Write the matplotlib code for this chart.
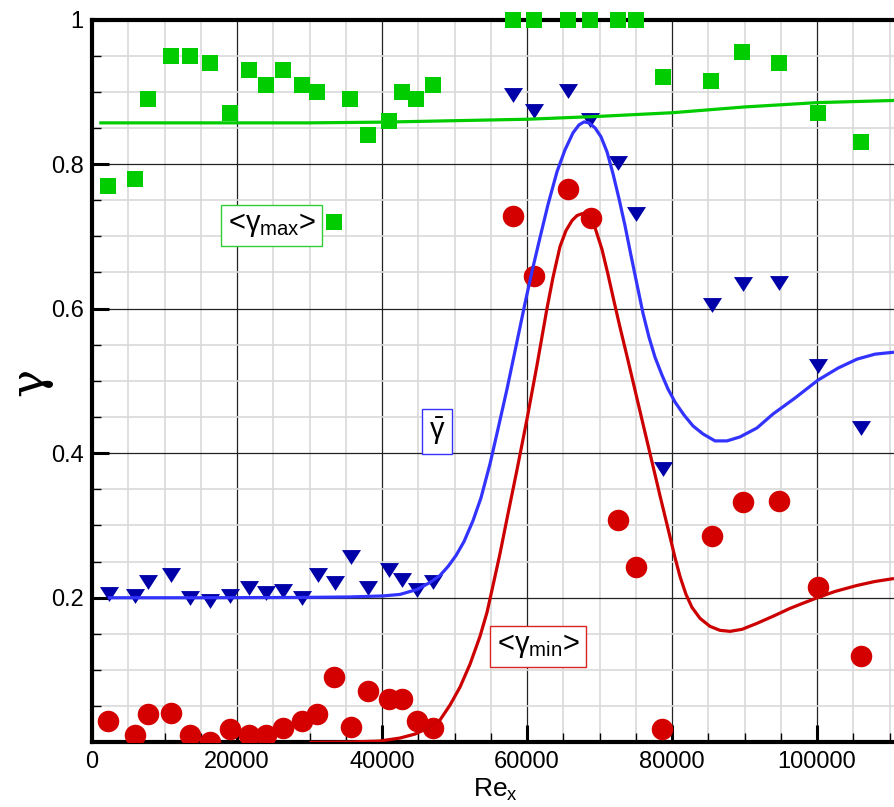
import matplotlib
matplotlib.use("Agg")
import matplotlib.pyplot as plt
from matplotlib.ticker import MultipleLocator, FixedLocator

plt.rcParams['font.family'] = ['Liberation Sans', 'DejaVu Sans']
plt.rcParams['mathtext.fontset'] = 'custom'
plt.rcParams['mathtext.rm'] = 'Liberation Sans'
plt.rcParams['mathtext.it'] = 'Liberation Sans'
plt.rcParams['mathtext.bf'] = 'Liberation Sans:bold'

# ---- measured intermittency: maximum (squares) ----
re_max = [2200, 5900, 7750, 10900, 13500, 16300, 19100, 21600, 24000, 26400,
          28900, 31100, 33400, 35600, 38100, 41000, 42800, 44700, 47100,
          58000, 60900, 65600, 68700, 72600, 75000, 78700, 85400, 89700,
          94700, 100200, 106100]
gamma_max = [0.77, 0.78, 0.89, 0.95, 0.95, 0.94, 0.87, 0.93, 0.91, 0.93,
             0.91, 0.90, 0.72, 0.89, 0.84, 0.86, 0.90, 0.89, 0.91,
             1.0, 1.0, 1.0, 1.0, 1.0, 1.0, 0.92, 0.915, 0.955,
             0.94, 0.87, 0.83]

# ---- measured intermittency: mean (triangles) ----
re_mean = [2300, 5900, 7750, 10900, 13500, 16300, 19000, 21600, 24000, 26400,
           28900, 31200, 33500, 35700, 38100, 41000, 42800, 44800, 47100,
           58000, 60900, 65700, 68700, 72600, 75100, 78700, 85500, 89800,
           94700, 100200, 106100]
gamma_mean = [0.205, 0.203, 0.222, 0.231, 0.200, 0.195, 0.203, 0.214, 0.206, 0.210,
              0.200, 0.232, 0.220, 0.257, 0.214, 0.238, 0.225, 0.211, 0.222,
              0.895, 0.873, 0.901, 0.861, 0.801, 0.731, 0.378, 0.605, 0.634,
              0.636, 0.520, 0.435]

# ---- measured intermittency: minimum (circles) ----
re_min = [2200, 5900, 7750, 10900, 13500, 16300, 19000, 21600, 24000, 26400,
          28900, 31100, 33400, 35700, 38100, 41000, 42800, 44800, 47100,
          58000, 60900, 65700, 68800, 72600, 75100, 78600, 85500, 89800,
          94700, 100200, 106100]
gamma_min = [0.030, 0.010, 0.039, 0.040, 0.010, 0.000, 0.018, 0.010, 0.010, 0.020,
             0.030, 0.039, 0.090, 0.021, 0.071, 0.060, 0.060, 0.030, 0.020,
             0.728, 0.645, 0.765, 0.726, 0.308, 0.242, 0.018, 0.285, 0.333,
             0.334, 0.215, 0.120]

# ---- model predictions (curves) ----
re_curve_max = [1000, 10000, 20000, 30000, 40000, 50000, 60000, 70000, 80000,
                90000, 100000, 110620]
curve_max = [0.857, 0.857, 0.857, 0.857, 0.858, 0.860, 0.862, 0.866, 0.871,
             0.879, 0.885, 0.888]

re_curve_mean = [2207, 14897, 28690, 35586, 40138, 42482, 44827, 46620, 48000,
                 49103, 50207, 51310, 52551, 53655, 54896, 56000, 57241, 58483,
                 59724, 60689, 61793, 62896, 64138, 65241, 66345, 67172, 67862,
                 68552, 69379, 70207, 71034, 71862, 72689, 73517, 74345, 75172,
                 76000, 76827, 77655, 78620, 79448, 80414, 81655, 82896, 84275,
                 85930, 87586, 89379, 91724, 93931, 96965, 100138, 102896,
                 105517, 108000, 110620]
curve_mean = [0.2000, 0.2000, 0.2004, 0.2011, 0.2025, 0.2046, 0.2114, 0.2211, 0.2308,
              0.2432, 0.2584, 0.2777, 0.3066, 0.3383, 0.3852, 0.4335, 0.4887, 0.5480,
              0.6073, 0.6514, 0.6983, 0.7439, 0.7894, 0.8197, 0.8432, 0.8542, 0.8583,
              0.8570, 0.8501, 0.8377, 0.8170, 0.7866, 0.7521, 0.7149, 0.6735, 0.6335,
              0.5935, 0.5604, 0.5328, 0.5080, 0.4887, 0.4708, 0.4528, 0.4377, 0.4266,
              0.4170, 0.4170, 0.4225, 0.4349, 0.4542, 0.4763, 0.5011, 0.5177,
              0.5301, 0.5370, 0.5397]

re_curve_min = [30000, 35586, 39724, 42482, 44551, 46345, 48000, 49379, 50758,
                52138, 53517, 54482, 55310, 56276, 57241, 58620, 60000, 61379,
                62758, 63586, 64552, 65379, 66207, 66896, 67586, 68414, 69379,
                70345, 71172, 72000, 72827, 73793, 74896, 76000, 77241, 78345,
                79448, 80414, 81103, 81931, 82758, 83862, 85241, 86621, 88000,
                89655, 91724, 94207, 96276, 98345, 100138, 102483, 105517,
                108000, 110620]
curve_min = [0.0000, 0.0004, 0.0018, 0.0059, 0.0114, 0.0197, 0.0308, 0.0515, 0.0763,
             0.1080, 0.1466, 0.1797, 0.2170, 0.2611, 0.3094, 0.3770, 0.4473, 0.5218,
             0.6004, 0.6432, 0.6859, 0.7080, 0.7218, 0.7287, 0.7314, 0.7273, 0.7121,
             0.6818, 0.6473, 0.6101, 0.5742, 0.5342, 0.4873, 0.4404, 0.3880, 0.3411,
             0.2956, 0.2556, 0.2294, 0.2046, 0.1866, 0.1715, 0.1604, 0.1549, 0.1535,
             0.1563, 0.1646, 0.1756, 0.1853, 0.1935, 0.2004, 0.2087, 0.2170,
             0.2225, 0.2266]

GREEN = '#00cc00'
BLUE_MARK = '#0000a8'
BLUE_LINE = '#3333ff'
RED_MARK = '#d40000'
RED_LINE = '#cc0000'

fig = plt.figure(figsize=(8.94, 8.07), dpi=100)
ax = fig.add_axes([92 / 894, 64.7 / 807, 1 - 92 / 894, (742.3 - 19.5) / 807])

tri = [(-1.0, 0.78), (1.0, 0.78), (0.0, -0.78)]

ax.plot(re_max, gamma_max, linestyle='none', marker='s', markersize=12.2,
        color=GREEN, markeredgewidth=0, clip_on=False, zorder=3)
ax.plot(re_mean, gamma_mean, linestyle='none', marker=tri, markersize=13.7,
        color=BLUE_MARK, markeredgewidth=0, zorder=3)
ax.plot(re_min, gamma_min, linestyle='none', marker='o', markersize=15.5,
        color=RED_MARK, markeredgewidth=0, zorder=3)

line_kw = dict(lw=2.3, zorder=4, solid_capstyle='butt', solid_joinstyle='round')
ax.plot(re_curve_max, curve_max, color=GREEN, **line_kw)
ax.plot(re_curve_mean, curve_mean, color=BLUE_LINE, **line_kw)
ax.plot(re_curve_min, curve_min, color=RED_LINE, **line_kw)

ax.set_xlim(0, 110620)
ax.set_ylim(0, 1)

ax.xaxis.set_major_locator(FixedLocator([0, 20000, 40000, 60000, 80000, 100000]))
ax.xaxis.set_minor_locator(MultipleLocator(5000))
ax.set_xticklabels(['0', '20000', '40000', '60000', '80000', '100000'])
ax.yaxis.set_major_locator(FixedLocator([0.2, 0.4, 0.6, 0.8, 1.0]))
ax.yaxis.set_minor_locator(MultipleLocator(0.05))
ax.set_yticklabels(['0.2', '0.4', '0.6', '0.8', '1'])

ax.grid(which='minor', color='#d9d9d9', lw=1.2, zorder=0)
ax.grid(which='major', color='#222222', lw=0.9, zorder=0)
ax.set_axisbelow(True)

ax.tick_params(which='major', direction='in', length=12, width=2.2,
               labelsize=17, pad=6, top=False, right=False)
ax.tick_params(which='minor', direction='in', length=6.5, width=1.0,
               top=False, right=False)

for side in ('left', 'bottom', 'top'):
    ax.spines[side].set_linewidth(3.0)
    ax.spines[side].set_color('black')
ax.spines['right'].set_visible(False)

# axis titles
fig.text(30 / 894, 1 - 382 / 807, 'γ', rotation=90, fontsize=34,
         family=['DejaVu Serif'], ha='center', va='center')
fig.text(473 / 894, 1 - 790 / 807, r'Re$_{\mathrm{x}}$', fontsize=19,
         ha='left', va='center')

# curve labels
box_kw = dict(fontsize=21, ha='center', va='center', zorder=5)
ax.text(24800, 0.715, r'<$\gamma_{\mathrm{max}}$>',
        bbox=dict(boxstyle='square,pad=0.22', fc='white', ec='#33cc33', lw=1.0),
        **box_kw)
ax.text(47600, 0.43, r'$\bar{\gamma}$',
        bbox=dict(boxstyle='square,pad=0.22', fc='white', ec='#3333ff', lw=1.0),
        **box_kw)
ax.text(61500, 0.133, r'<$\gamma_{\mathrm{min}}$>',
        bbox=dict(boxstyle='square,pad=0.22', fc='white', ec='#dd2222', lw=1.0),
        **box_kw)

fig.savefig('out.png', dpi=100)
